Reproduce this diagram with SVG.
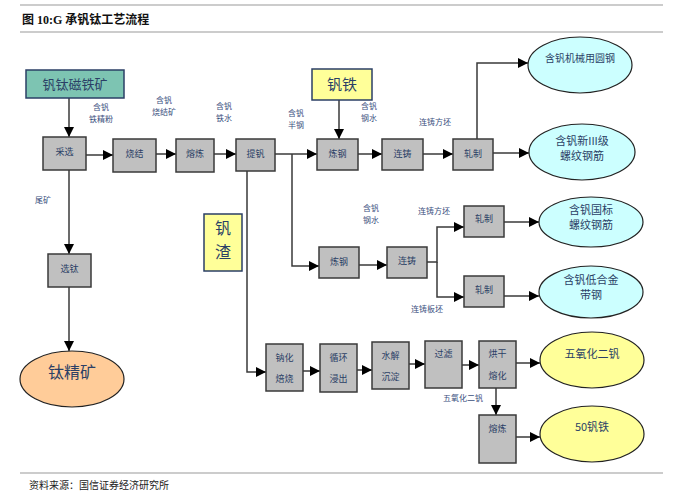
<svg xmlns="http://www.w3.org/2000/svg" width="675" height="500" viewBox="0 0 675 500">
<style>
.box{fill:#C0C0C0;stroke:#3a3a3a;stroke-width:1.5}
.t{font-family:"Noto Sans CJK SC","Noto Sans",sans-serif;fill:#2B3F66;text-anchor:middle}
.s{font-size:9px}
.l{font-size:8px;fill:#3B5080}
.e{font-size:11px;fill:#2B3F66}
.ln{fill:none;stroke:#3a3a3a;stroke-width:1.5}
.rule{stroke:#999;stroke-width:1.2}
</style>
<defs>
<marker id="ar" viewBox="0 0 10 10" refX="10" refY="5" markerWidth="10" markerHeight="10" markerUnits="userSpaceOnUse" orient="auto">
<path d="M0,0 L10,5 L0,10 z" fill="#000"/>
</marker>
</defs>
<rect width="675" height="500" fill="#fff"/>
<line class="rule" x1="20" y1="5" x2="663" y2="5"/>
<line class="rule" x1="20" y1="32" x2="663" y2="32"/>
<line class="rule" x1="20" y1="473" x2="663" y2="473"/>
<text x="22" y="24" font-family="Liberation Serif,'Noto Sans CJK SC',serif" font-size="12" font-weight="bold" fill="#111">图 10:G 承钒钛工艺流程</text>
<text x="29" y="489" font-family="'Noto Sans CJK SC',sans-serif" font-size="10" fill="#222">资料来源：国信证券经济研究所</text>

<g id="connectors">
<path class="ln" d="M69,98 V137" marker-end="url(#ar)"/>
<path class="ln" d="M86,155 H113" marker-end="url(#ar)"/>
<path class="ln" d="M156,154 H176" marker-end="url(#ar)"/>
<path class="ln" d="M214,154 H236" marker-end="url(#ar)"/>
<path class="ln" d="M275,154 H317" marker-end="url(#ar)"/>
<path class="ln" d="M339,100 V139" marker-end="url(#ar)"/>
<path class="ln" d="M358,154 H382" marker-end="url(#ar)"/>
<path class="ln" d="M423,154 H453" marker-end="url(#ar)"/>
<path class="ln" d="M477,139 V63 H528" marker-end="url(#ar)"/>
<path class="ln" d="M493,153 H529" marker-end="url(#ar)"/>
<path class="ln" d="M292,154 V266 H319" marker-end="url(#ar)"/>
<path class="ln" d="M359,265 H387" marker-end="url(#ar)"/>
<path class="ln" d="M427,262 H437 V227 H464" marker-end="url(#ar)"/>
<path class="ln" d="M437,262 V297 H464" marker-end="url(#ar)"/>
<path class="ln" d="M504,222 H539" marker-end="url(#ar)"/>
<path class="ln" d="M504,296 H539" marker-end="url(#ar)"/>
<path class="ln" d="M69,170 V254" marker-end="url(#ar)"/>
<path class="ln" d="M69,287 V351" marker-end="url(#ar)"/>
<path class="ln" d="M247,171 V372 H266" marker-end="url(#ar)"/>
<path class="ln" d="M303,371 H320" marker-end="url(#ar)"/>
<path class="ln" d="M357,370 H372" marker-end="url(#ar)"/>
<path class="ln" d="M409,364 H425" marker-end="url(#ar)"/>
<path class="ln" d="M462,365 H479" marker-end="url(#ar)"/>
<path class="ln" d="M516,363 H540" marker-end="url(#ar)"/>
<path class="ln" d="M496,388 V415" marker-end="url(#ar)"/>
<path class="ln" d="M516,437 H540" marker-end="url(#ar)"/>
</g>

<g id="labels">
<text class="t l" x="101" y="110">含钒</text><text class="t l" x="101" y="122">铁精粉</text>
<text class="t l" x="164" y="103">含钒</text><text class="t l" x="164" y="115">烧结矿</text>
<text class="t l" x="224" y="109">含钒</text><text class="t l" x="224" y="121">铁水</text>
<text class="t l" x="296" y="116">含钒</text><text class="t l" x="296" y="128">半钢</text>
<text class="t l" x="369" y="109">含钒</text><text class="t l" x="369" y="121">钢水</text>
<text class="t l" x="435" y="125">连铸方坯</text>
<text class="t l" x="371" y="211">含钒</text><text class="t l" x="371" y="223">钢水</text>
<text class="t l" x="434" y="214">连铸方坯</text>
<text class="t l" x="427" y="312">连铸板坯</text>
<text class="t l" x="43" y="203">尾矿</text>
<text class="t l" x="463" y="401">五氧化二钒</text>
</g>

<g id="n_ore"><rect x="26" y="70" width="98" height="28" fill="#7DC4B2" stroke="#2B3F66" stroke-width="1.5"/><text class="t" x="75" y="89" font-size="13">钒钛磁铁矿</text></g>
<g id="n_caixuan"><rect class="box" x="43" y="137" width="43" height="33"/><text class="t s" x="64.5" y="155">采选</text></g>
<g id="n_shaojie"><rect class="box" x="113" y="139" width="43" height="33"/><text class="t s" x="134.5" y="157">烧结</text></g>
<g id="n_ronglian"><rect class="box" x="176" y="139" width="38" height="33"/><text class="t s" x="195" y="157">熔炼</text></g>
<g id="n_tifan"><rect class="box" x="236" y="139" width="39" height="32"/><text class="t s" x="255.5" y="157">提钒</text></g>
<g id="n_fantie"><rect x="312" y="69" width="60" height="31" fill="#FFFF99" stroke="#2B3F66" stroke-width="1.5"/><text class="t" x="342" y="90" font-size="15">钒铁</text></g>
<g id="n_liangang1"><rect class="box" x="317" y="139" width="41" height="31"/><text class="t s" x="337.5" y="157">炼钢</text></g>
<g id="n_lianzhu1"><rect class="box" x="382" y="139" width="41" height="31"/><text class="t s" x="402.5" y="157">连铸</text></g>
<g id="n_zhazhi1"><rect class="box" x="453" y="139" width="40" height="31"/><text class="t s" x="473" y="157">轧制</text></g>
<g id="n_e1"><ellipse cx="580" cy="65" rx="52" ry="28" fill="#CCFFFF" stroke="#222" stroke-width="1.2"/><text class="t" x="580" y="62" font-size="10">含钒机械用圆钢</text></g>
<g id="n_e2"><ellipse cx="582" cy="152" rx="53" ry="28" fill="#CCFFFF" stroke="#222" stroke-width="1.2"/><text class="t e" x="582" y="145">含钒新III级</text><text class="t e" x="582" y="160">螺纹钢筋</text></g>
<g id="n_liangang2"><rect class="box" x="319" y="247" width="40" height="31"/><text class="t s" x="339" y="265">炼钢</text></g>
<g id="n_lianzhu2"><rect class="box" x="387" y="247" width="40" height="31"/><text class="t s" x="407" y="264">连铸</text></g>
<g id="n_zhazhi2"><rect class="box" x="464" y="206" width="40" height="31"/><text class="t s" x="484" y="222">轧制</text></g>
<g id="n_zhazhi3"><rect class="box" x="464" y="276" width="40" height="31"/><text class="t s" x="484" y="293">轧制</text></g>
<g id="n_e3"><ellipse cx="591" cy="222" rx="52" ry="25" fill="#CCFFFF" stroke="#222" stroke-width="1.2"/><text class="t e" x="591" y="214">含钒国标</text><text class="t e" x="591" y="229">螺纹钢筋</text></g>
<g id="n_e4"><ellipse cx="591" cy="292" rx="52" ry="26" fill="#CCFFFF" stroke="#222" stroke-width="1.2"/><text class="t e" x="591" y="284">含钒低合金</text><text class="t e" x="591" y="299">带钢</text></g>
<g id="n_xuantai"><rect class="box" x="48" y="254" width="43" height="33"/><text class="t s" x="69.5" y="272">选钛</text></g>
<g id="n_taijk"><ellipse cx="72" cy="379" rx="52" ry="28" fill="#FFCC99" stroke="#222" stroke-width="1.2"/><text class="t" x="72" y="378" font-size="16">钛精矿</text></g>
<g id="n_fanzha"><rect x="204" y="214" width="38" height="57" fill="#FFFF99" stroke="#2B3F66" stroke-width="1.5"/><text class="t" x="223" y="234" font-size="16">钒</text><text class="t" x="223" y="258" font-size="16">渣</text></g>
<g id="n_nahua"><rect class="box" x="266" y="344" width="37" height="47"/><text class="t s" x="284.5" y="361">钠化</text><text class="t s" x="284.5" y="382">焙烧</text></g>
<g id="n_xunhuan"><rect class="box" x="320" y="344" width="37" height="48"/><text class="t s" x="338.5" y="361">循环</text><text class="t s" x="338.5" y="382">浸出</text></g>
<g id="n_shuijie"><rect class="box" x="372" y="342" width="37" height="47"/><text class="t s" x="390.5" y="359">水解</text><text class="t s" x="390.5" y="380">沉淀</text></g>
<g id="n_guolv"><rect class="box" x="425" y="341" width="37" height="47"/><text class="t s" x="443.5" y="357">过滤</text></g>
<g id="n_honggan"><rect class="box" x="479" y="341" width="37" height="47"/><text class="t s" x="497.5" y="357">烘干</text><text class="t s" x="497.5" y="379">熔化</text></g>
<g id="n_ronglian2"><rect class="box" x="479" y="415" width="37" height="48"/><text class="t s" x="497.5" y="432">熔炼</text></g>
<g id="n_v2o5"><ellipse cx="592" cy="360" rx="52" ry="28" fill="#FFFF99" stroke="#222" stroke-width="1.2"/><text class="t e" x="592" y="358">五氧化二钒</text></g>
<g id="n_fe50"><ellipse cx="592" cy="434" rx="52" ry="28" fill="#FFFF99" stroke="#222" stroke-width="1.2"/><text class="t e" x="592" y="431">50钒铁</text></g>
</svg>
